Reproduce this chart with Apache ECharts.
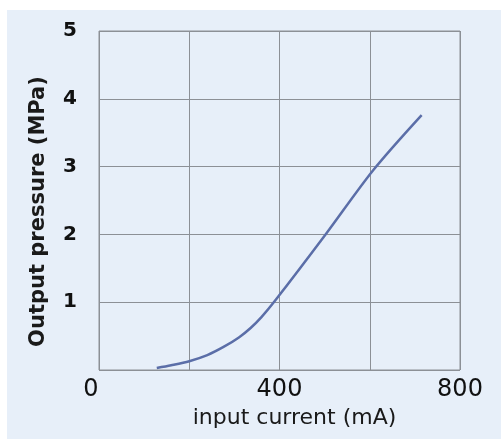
<!DOCTYPE html>
<html><head><meta charset="utf-8">
<script src="https://cdn.jsdelivr.net/npm/echarts@6/dist/echarts.min.js"></script>
<style>
html,body{margin:0;padding:0;background:#fff;width:501px;height:439px;overflow:hidden}
#c{position:absolute;left:7px;top:10px;width:494px;height:429px}
</style></head><body>
<div id="c"></div>
<script>
const currentMA = [128, 160, 200, 240, 276, 310, 336, 360, 390, 500, 608, 715];
const pressureMPa = [0.03, 0.07, 0.13, 0.22, 0.34, 0.48, 0.62, 0.78, 1.02, 1.98, 2.95, 3.76];
const xTickLabels = [0, 400, 800];
const yTickLabels = [1, 2, 3, 4, 5];

const chart = echarts.init(document.getElementById('c'), null, {renderer:'canvas'});
const gridColor = '#8c9096';
chart.setOption({
  animation:false,
  backgroundColor:'#e7eff9',
  grid:{left:92, top:21, right:41, bottom:69, show:true, borderColor:gridColor, borderWidth:1, backgroundColor:'transparent'},
  xAxis:{
    type:'value', min:0, max:800, interval:200,
    name:'input current (mA)', nameLocation:'middle', nameGap:34,
    nameTextStyle:{fontFamily:'DejaVu Sans', fontSize:22, color:'#1a1a1a', padding:[0,0,0,30]},
    axisLine:{show:false}, axisTick:{show:false},
    splitLine:{show:true, lineStyle:{color:gridColor, width:1}},
    axisLabel:{
      margin:8, fontFamily:'DejaVu Sans', fontSize:24, color:'#111',
      formatter:v => xTickLabels.indexOf(v) >= 0 ? (v === 0 ? '{z|0}' : String(v)) : '',
      rich:{z:{fontFamily:'DejaVu Sans', fontSize:24, color:'#111', padding:[0,16,0,0]}}
    }
  },
  yAxis:{
    type:'value', min:0, max:5, interval:1,
    name:'Output pressure (MPa)', nameLocation:'middle', nameGap:50,
    nameTextStyle:{fontFamily:'DejaVu Sans', fontWeight:'bold', fontSize:21, color:'#1a1a1a', padding:[0,22,0,0]},
    axisLine:{show:false}, axisTick:{show:false},
    splitLine:{show:true, lineStyle:{color:gridColor, width:1}},
    axisLabel:{
      margin:22, fontFamily:'DejaVu Sans', fontWeight:'bold', fontSize:20, color:'#111',
      formatter:v => yTickLabels.indexOf(v) >= 0 ? String(v) : ''
    }
  },
  series:[{
    type:'line', data:currentMA.map((x,i)=>[x, pressureMPa[i]]),
    showSymbol:false, smooth:0.3,
    lineStyle:{color:'#5b6ea8', width:2.5}
  }]
});
</script></body></html>
